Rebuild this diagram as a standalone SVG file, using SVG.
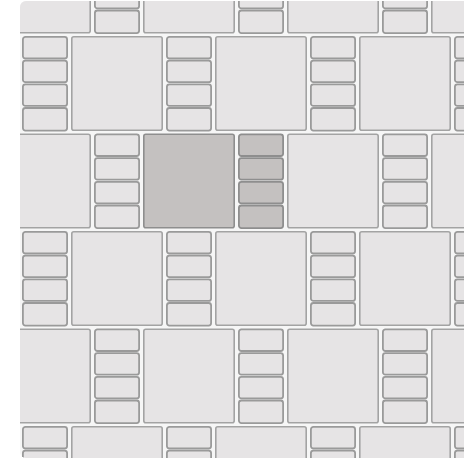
<svg xmlns="http://www.w3.org/2000/svg" xmlns:xlink="http://www.w3.org/1999/xlink" width="464" height="461" viewBox="0 0 464 461">
  <style>
    .s { fill: #e6e4e5; stroke: #9a9a9a; stroke-width: 1.8; }
    .sq { fill: #e6e4e5; stroke: #a3a3a3; stroke-width: 1.6; }
    .s.hl, .sq.hl { fill: #c4c1c0; stroke: #8e8e8e; }
  </style>
  <defs>
    <clipPath id="clip">
      <rect x="20" y="1" width="460" height="457" rx="6" ry="6"/>
    </clipPath>
    <g id="sm">
      <rect x="0.9" y="0.9" width="44.2" height="21.6" rx="2.5"/>
      <rect x="0.9" y="24.6" width="44.2" height="21.6" rx="2.5"/>
      <rect x="0.9" y="48.3" width="44.2" height="21.6" rx="2.5"/>
      <rect x="0.9" y="72.0" width="44.2" height="22.6" rx="2.5"/>
    </g>
    <rect id="sq" x="0.8" y="0.8" width="90.4" height="93.4" rx="2"/>
  </defs>

  <rect x="20" y="1" width="460" height="457" rx="6" ry="6" fill="#f6f6f6"/>

  <g clip-path="url(#clip)">
    <g id="row-b0">
      <use xlink:href="#sq" class="sq" x="-1" y="-61.5"/>
      <use xlink:href="#sm" class="s" x="94" y="-61.5"/>
      <use xlink:href="#sq" class="sq" x="143" y="-61.5"/>
      <use xlink:href="#sm" class="s" x="238" y="-61.5"/>
      <use xlink:href="#sq" class="sq" x="287" y="-61.5"/>
      <use xlink:href="#sm" class="s" x="382" y="-61.5"/>
      <use xlink:href="#sq" class="sq" x="431" y="-61.5"/>
    </g>
    <g id="row-a1">
      <use xlink:href="#sm" class="s" x="22" y="36"/>
      <use xlink:href="#sq" class="sq" x="71" y="36"/>
      <use xlink:href="#sm" class="s" x="166" y="36"/>
      <use xlink:href="#sq" class="sq" x="215" y="36"/>
      <use xlink:href="#sm" class="s" x="310" y="36"/>
      <use xlink:href="#sq" class="sq" x="359" y="36"/>
      <use xlink:href="#sm" class="s" x="454" y="36"/>
    </g>
    <g id="row-b2">
      <use xlink:href="#sq" class="sq" x="-1" y="133.5"/>
      <use xlink:href="#sm" class="s" x="94" y="133.5"/>
      <use xlink:href="#sq" class="sq hl" x="143" y="133.5"/>
      <use xlink:href="#sm" class="s hl" x="238" y="133.5"/>
      <use xlink:href="#sq" class="sq" x="287" y="133.5"/>
      <use xlink:href="#sm" class="s" x="382" y="133.5"/>
      <use xlink:href="#sq" class="sq" x="431" y="133.5"/>
    </g>
    <g id="row-a3">
      <use xlink:href="#sm" class="s" x="22" y="231"/>
      <use xlink:href="#sq" class="sq" x="71" y="231"/>
      <use xlink:href="#sm" class="s" x="166" y="231"/>
      <use xlink:href="#sq" class="sq" x="215" y="231"/>
      <use xlink:href="#sm" class="s" x="310" y="231"/>
      <use xlink:href="#sq" class="sq" x="359" y="231"/>
      <use xlink:href="#sm" class="s" x="454" y="231"/>
    </g>
    <g id="row-b4">
      <use xlink:href="#sq" class="sq" x="-1" y="328.5"/>
      <use xlink:href="#sm" class="s" x="94" y="328.5"/>
      <use xlink:href="#sq" class="sq" x="143" y="328.5"/>
      <use xlink:href="#sm" class="s" x="238" y="328.5"/>
      <use xlink:href="#sq" class="sq" x="287" y="328.5"/>
      <use xlink:href="#sm" class="s" x="382" y="328.5"/>
      <use xlink:href="#sq" class="sq" x="431" y="328.5"/>
    </g>
    <g id="row-a5">
      <use xlink:href="#sm" class="s" x="22" y="426"/>
      <use xlink:href="#sq" class="sq" x="71" y="426"/>
      <use xlink:href="#sm" class="s" x="166" y="426"/>
      <use xlink:href="#sq" class="sq" x="215" y="426"/>
      <use xlink:href="#sm" class="s" x="310" y="426"/>
      <use xlink:href="#sq" class="sq" x="359" y="426"/>
      <use xlink:href="#sm" class="s" x="454" y="426"/>
    </g>
  </g>
</svg>
